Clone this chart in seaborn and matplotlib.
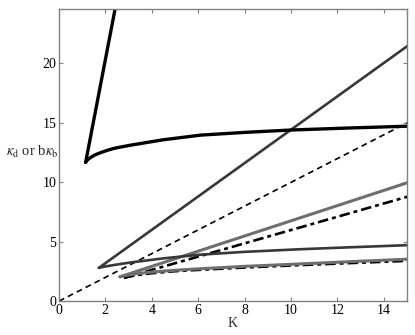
import matplotlib
matplotlib.use("Agg")
import matplotlib.pyplot as plt
import seaborn as sns
import pandas as pd

# ---- data ----
K_black_up = [1.15, 2.48]
v_black_up = [11.67, 25.2]
K_black_low = [1.15, 1.2, 1.28, 1.4, 1.55, 1.8, 2.1, 2.4, 3.1, 4.5, 6.1, 8.0, 10.0, 12.5, 15.0]
v_black_low = [11.67, 11.82, 11.97, 12.13, 12.3, 12.5, 12.7, 12.87, 13.13, 13.58, 13.97, 14.2, 14.4, 14.57, 14.72]

K_dgray_up = [1.72, 15.0]
v_dgray_up = [2.8, 21.45]
K_dgray_low = [1.72, 2.0, 2.4, 3.1, 4.5, 6.0, 8.0, 10.4, 12.5, 15.0]
v_dgray_low = [2.8, 2.92, 3.05, 3.26, 3.6, 3.9, 4.15, 4.37, 4.53, 4.71]

K_diag = [0.0, 15.0]
v_diag = [0.0, 15.0]

K_gray_up = [2.63, 15.0]
v_gray_up = [2.05, 9.96]
K_gray_low = [2.63, 2.9, 3.3, 4.0, 5.0, 6.0, 8.0, 10.0, 12.5, 15.0]
v_gray_low = [2.05, 2.17, 2.3, 2.45, 2.6, 2.72, 2.93, 3.1, 3.32, 3.53]

K_dd_up = [2.8, 15.0]
v_dd_up = [1.96, 8.78]
K_dd_low = [2.8, 3.05, 3.4, 4.0, 5.0, 6.0, 8.0, 10.0, 12.5, 15.0]
v_dd_low = [1.96, 2.08, 2.2, 2.35, 2.52, 2.63, 2.83, 3.0, 3.2, 3.39]

x_ticks = [0, 2, 4, 6, 8, 10, 12, 14]
y_ticks = [0, 5, 10, 15, 20]

sns.set_theme(style="white")
plt.rcParams["font.family"] = ["Liberation Serif", "DejaVu Serif"]
plt.rcParams["mathtext.fontset"] = "stix"

fig = plt.figure(figsize=(4.15, 3.35), dpi=100)
ax = fig.add_axes([0.142, 0.101, 0.839, 0.871])

def draw(K, v, color, lw, ls):
    df = pd.DataFrame({"K": K, "v": v})
    sns.lineplot(data=df, x="K", y="v", sort=False, estimator=None, ax=ax,
                 color=color, linewidth=lw, linestyle=ls)

draw(K_diag, v_diag, "black", 1.2, (0, (3.5, 2.5)))
draw(K_dd_up, v_dd_up, "black", 1.9, (0, (4, 1.5, 1.5, 1.5)))
draw(K_dd_low, v_dd_low, "black", 1.9, (0, (4, 1.5, 1.5, 1.5)))
draw(K_gray_up, v_gray_up, "#6e6e6e", 2.2, "-")
draw(K_gray_low, v_gray_low, "#6e6e6e", 2.2, "-")
draw(K_dgray_up, v_dgray_up, "#383838", 1.9, "-")
draw(K_dgray_low, v_dgray_low, "#383838", 1.9, "-")
draw(K_black_up, v_black_up, "black", 2.4, "-")
draw(K_black_low, v_black_low, "black", 2.4, "-")

ax.set_xlim(0, 15)
ax.set_ylim(0, 24.55)
ax.set_xticks(x_ticks)
ax.set_yticks(y_ticks)
ax.set_xticklabels([str(t) for t in x_ticks])
ax.set_yticklabels([str(t) for t in y_ticks])
ax.tick_params(direction="in", length=3, width=0.8, color="#808080",
               top=True, right=True, bottom=True, left=True,
               labelsize=10, pad=2, labelcolor="black")
for s in ax.spines.values():
    s.set_color("#808080")
    s.set_linewidth(1.0)

ax.set_xlabel("K", fontsize=10, labelpad=0)
ax.set_ylabel(r"$\kappa_{\rm d}$ or b$\kappa_{\rm b}$", rotation=0, fontsize=10.5,
              ha="center", va="center")
ax.yaxis.set_label_coords(-0.077, 0.51)

fig.savefig("out.png", dpi=100)
